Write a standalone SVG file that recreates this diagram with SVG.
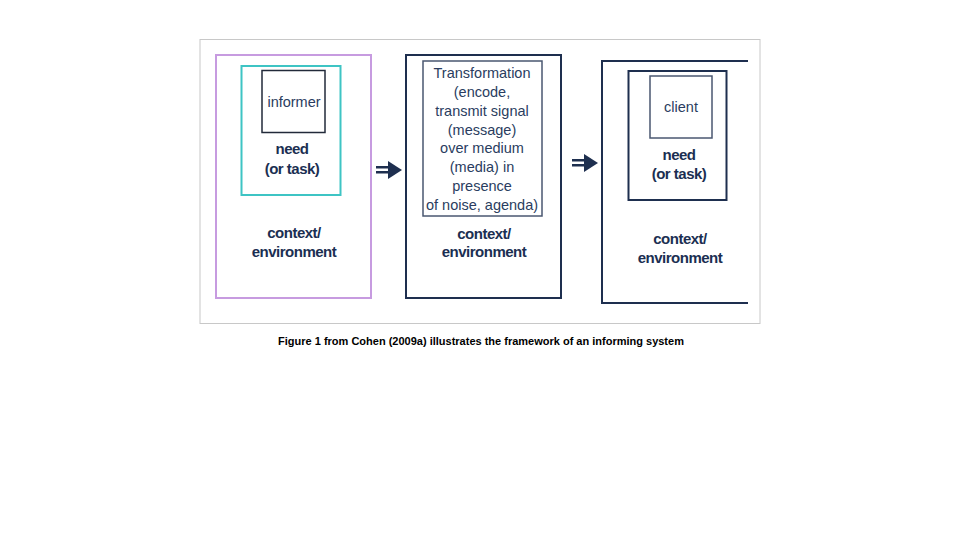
<svg xmlns="http://www.w3.org/2000/svg" width="960" height="540" viewBox="0 0 960 540">
<style>
.t{font-family:"Liberation Sans",Arial,sans-serif;fill:#1b2f52;text-anchor:middle}
.b{font-weight:bold;font-size:15px;letter-spacing:-0.5px}
.n{font-size:14.5px;fill:#2a3d60}
.dk{fill:none;stroke:#1e2f4f;stroke-width:2}
</style>
<rect x="0" y="0" width="960" height="540" fill="#fff"/>
<rect x="200" y="39.5" width="560" height="284" fill="#fff" stroke="#c8c8c8" stroke-width="1"/>
<g id="informer-env">
<rect x="216" y="55" width="155" height="243" fill="none" stroke="#c79be0" stroke-width="2"/>
<rect x="241.5" y="66" width="99" height="129" fill="none" stroke="#3ec4c4" stroke-width="2"/>
<rect x="262" y="70.5" width="63" height="62" fill="none" stroke="#222a3a" stroke-width="1.5"/>
<text class="t n" x="294" y="107">informer</text>
<text class="t b" x="292" y="154">need</text>
<text class="t b" x="292" y="174">(or task)</text>
<text class="t b" x="294" y="238">context/</text>
<text class="t b" x="294" y="257">environment</text>
</g>
<g id="transformation-env">
<rect x="406" y="55" width="155" height="243" class="dk"/>
<rect x="423" y="61" width="119" height="155" fill="none" stroke="#4a5770" stroke-width="1.5"/>
<text class="t n" x="482" y="78">Transformation</text>
<text class="t n" x="482" y="97">(encode,</text>
<text class="t n" x="482" y="116">transmit signal</text>
<text class="t n" x="482" y="135">(message)</text>
<text class="t n" x="482" y="153">over medium</text>
<text class="t n" x="482" y="172">(media) in</text>
<text class="t n" x="482" y="191">presence</text>
<text class="t n" x="482" y="210">of noise, agenda)</text>
<text class="t b" x="484" y="239">context/</text>
<text class="t b" x="484" y="257">environment</text>
</g>
<g id="client-env">
<path d="M748,61 H602 V303 H748" class="dk"/>
<rect x="628.5" y="71" width="98" height="129" class="dk"/>
<rect x="650" y="76" width="62" height="62" fill="none" stroke="#4a5770" stroke-width="1.5"/>
<text class="t n" x="681" y="112">client</text>
<text class="t b" x="679" y="160">need</text>
<text class="t b" x="679" y="179">(or task)</text>
<text class="t b" x="680" y="244">context/</text>
<text class="t b" x="680" y="263">environment</text>
</g>
<g id="connectors" fill="#1e2f4f">
<rect x="376" y="166" width="14" height="2.5"/><rect x="376" y="171" width="14" height="2.5"/>
<polygon points="388,161 402,170 388,179"/>
<rect x="572" y="159" width="14" height="2.5"/><rect x="572" y="164" width="14" height="2.5"/>
<polygon points="584,154 598,163 584,172"/>
</g>
<text x="481" y="345" font-family="Liberation Sans,Arial,sans-serif" font-size="11" font-weight="bold" text-anchor="middle" fill="#000">Figure 1 from Cohen (2009a) illustrates the framework of an informing system</text>
</svg>
